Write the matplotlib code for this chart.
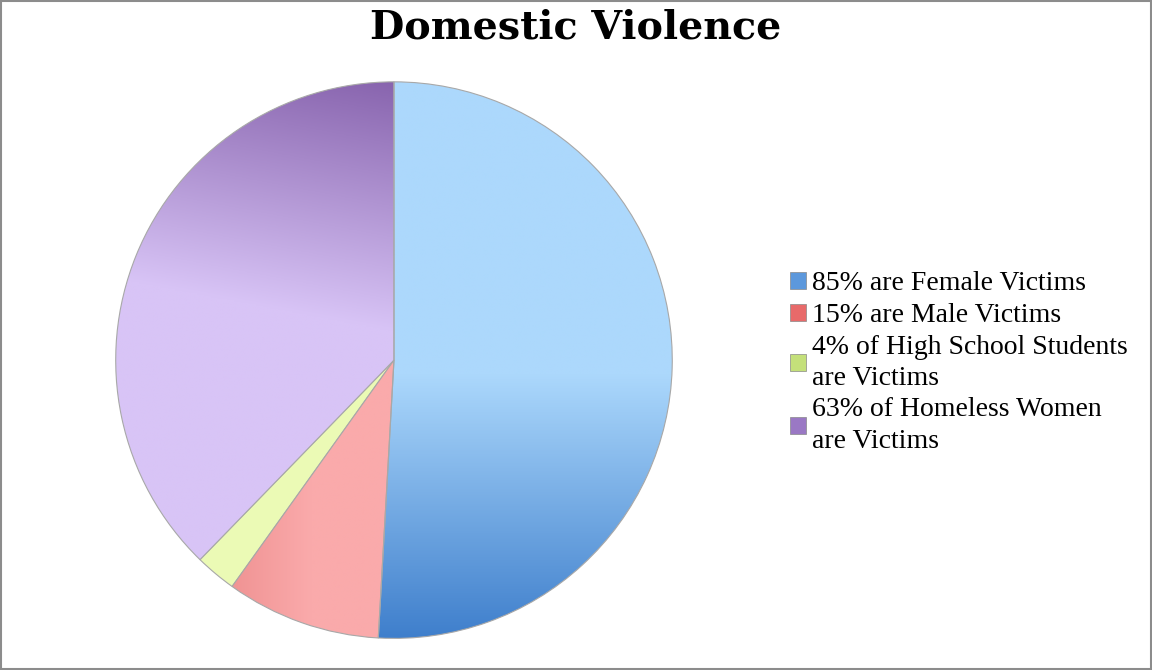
import numpy as np
import matplotlib.pyplot as plt
from matplotlib.colors import LinearSegmentedColormap
from matplotlib.patches import Rectangle

labels = ['85% are Female Victims', '15% are Male Victims',
          '4% of High School Students\nare Victims',
          '63% of Homeless Women\nare Victims']
values = [85, 15, 4, 63]
legend_colors = ['#5c98dc', '#e86a6a', '#c4e07a', '#9a78c4']

fig = plt.figure(figsize=(11.52, 6.70), dpi=100)
fig.patches.append(Rectangle((0.0005, 0.0008), 0.999, 0.998, transform=fig.transFigure,
                             fill=False, edgecolor='#8c8c8c', lw=1.5))

ax = fig.add_axes([0.098, 0.043, 0.488, 0.839])
wedges, _ = ax.pie(values, startangle=90, counterclock=False,
                   colors=['#acd8fc', '#f9a9aa', '#ebfab5', '#d8c4f6'],
                   wedgeprops=dict(edgecolor='#a8a8a8', linewidth=0.8))
ax.set_xlim(-1.01, 1.01)
ax.set_ylim(-1.01, 1.01)

# gradient fills, clipped to each wedge
xx, yy = np.meshgrid(np.linspace(-1, 1, 400), np.linspace(1, -1, 400))

def shade(wedge, t, c0, c1):
    cmap = LinearSegmentedColormap.from_list('g', [c0, c1])
    im = ax.imshow(np.clip(t, 0, 1), cmap=cmap, vmin=0, vmax=1,
                   extent=(-1, 1, -1, 1), zorder=wedge.get_zorder() + 0.1,
                   interpolation='bilinear')
    im.set_clip_path(wedge)
    wedge.set_facecolor('none')
    wedge.set_zorder(wedge.get_zorder() + 0.2)

shade(wedges[0], (-yy - 0.05) / 0.95, '#acd8fc', '#3f7fcc')
shade(wedges[1], (-0.3 - xx) / 0.35, '#faaaab', '#ee8e8e')
shade(wedges[3], (0.19 * xx + yy - 0.1) / 0.9, '#d8c4f6', '#8864ae')

fig.text(0.5, 0.942, 'Domestic Violence', fontsize=28.5, fontweight='bold',
         family='DejaVu Serif', ha='center', va='baseline')

handles = [Rectangle((0, 0), 1, 1, facecolor=c, edgecolor='#888888', lw=0.5)
           for c in legend_colors]
leg = fig.legend(handles, labels, loc='center left', bbox_to_anchor=(0.686, 0.459),
                 frameon=False, handlelength=0.55, handleheight=0.55, handletextpad=0.25,
                 labelspacing=0.24, borderpad=0, borderaxespad=0,
                 prop={'family': 'Liberation Serif', 'size': 20})
for t in leg.get_texts():
    t.set_linespacing(1.32)

fig.savefig('out.png', dpi=100)
